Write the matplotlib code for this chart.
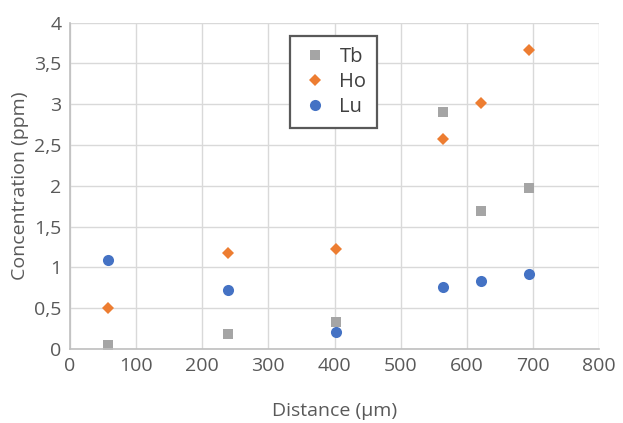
import matplotlib
matplotlib.use("Agg")
import matplotlib.pyplot as plt
from matplotlib.ticker import FuncFormatter

plt.rcParams['font.family'] = ['Open Sans', 'DejaVu Sans']

distance = [58, 239, 403, 564, 621, 694]
tb = [0.05, 0.19, 0.33, 2.90, 1.69, 1.97]
ho = [0.50, 1.18, 1.23, 2.58, 3.02, 3.66]
lu = [1.09, 0.72, 0.21, 0.76, 0.83, 0.92]

series_names = ['Tb', 'Ho', 'Lu']
colors = ['#a5a5a5', '#ed7d31', '#4472c4']
markers = ['s', 'D', 'o']
sizes = [7.5, 6, 8]

fig = plt.figure(figsize=(6.23, 4.23), dpi=100)
ax = fig.add_axes([70/623, 1-349/423, 529/623, (349-22.7)/423])

for vals, name, c, m, s in zip([tb, ho, lu], series_names, colors, markers, sizes):
    ax.plot(distance, vals, linestyle='none', marker=m, color=c, markersize=s,
            markeredgewidth=0, label=name)

ax.set_xlim(0, 800)
ax.set_ylim(0, 4)
ax.set_xticks(range(0, 801, 100))
ax.set_yticks([i * 0.5 for i in range(9)])
ax.yaxis.set_major_formatter(FuncFormatter(lambda v, p: ('%g' % v).replace('.', ',')))
ax.grid(True, color='#d9d9d9', linewidth=1)
ax.set_axisbelow(True)
for s in ['top', 'right']:
    ax.spines[s].set_visible(False)
for s in ['left', 'bottom']:
    ax.spines[s].set_color('#bfbfbf')
    ax.spines[s].set_linewidth(1.2)
ax.tick_params(length=0, labelsize=14, labelcolor='#595959', pad=6)
ax.set_xlabel('Distance (µm)', fontsize=14, color='#595959', labelpad=19)
ax.set_ylabel('Concentration (ppm)', fontsize=14, color='#595959', labelpad=4)

leg = ax.legend(loc='upper left', bbox_to_anchor=(0.416, 0.959), fontsize=14.5,
                frameon=True, fancybox=False, handletextpad=0.5, borderpad=0.55,
                labelspacing=0.25, handlelength=1.4, borderaxespad=0)
leg.get_frame().set_edgecolor('#595959')
leg.get_frame().set_linewidth(1.6)
leg.get_frame().set_alpha(1)
for t in leg.get_texts():
    t.set_color('#404040')

fig.savefig('out.png', dpi=100)
